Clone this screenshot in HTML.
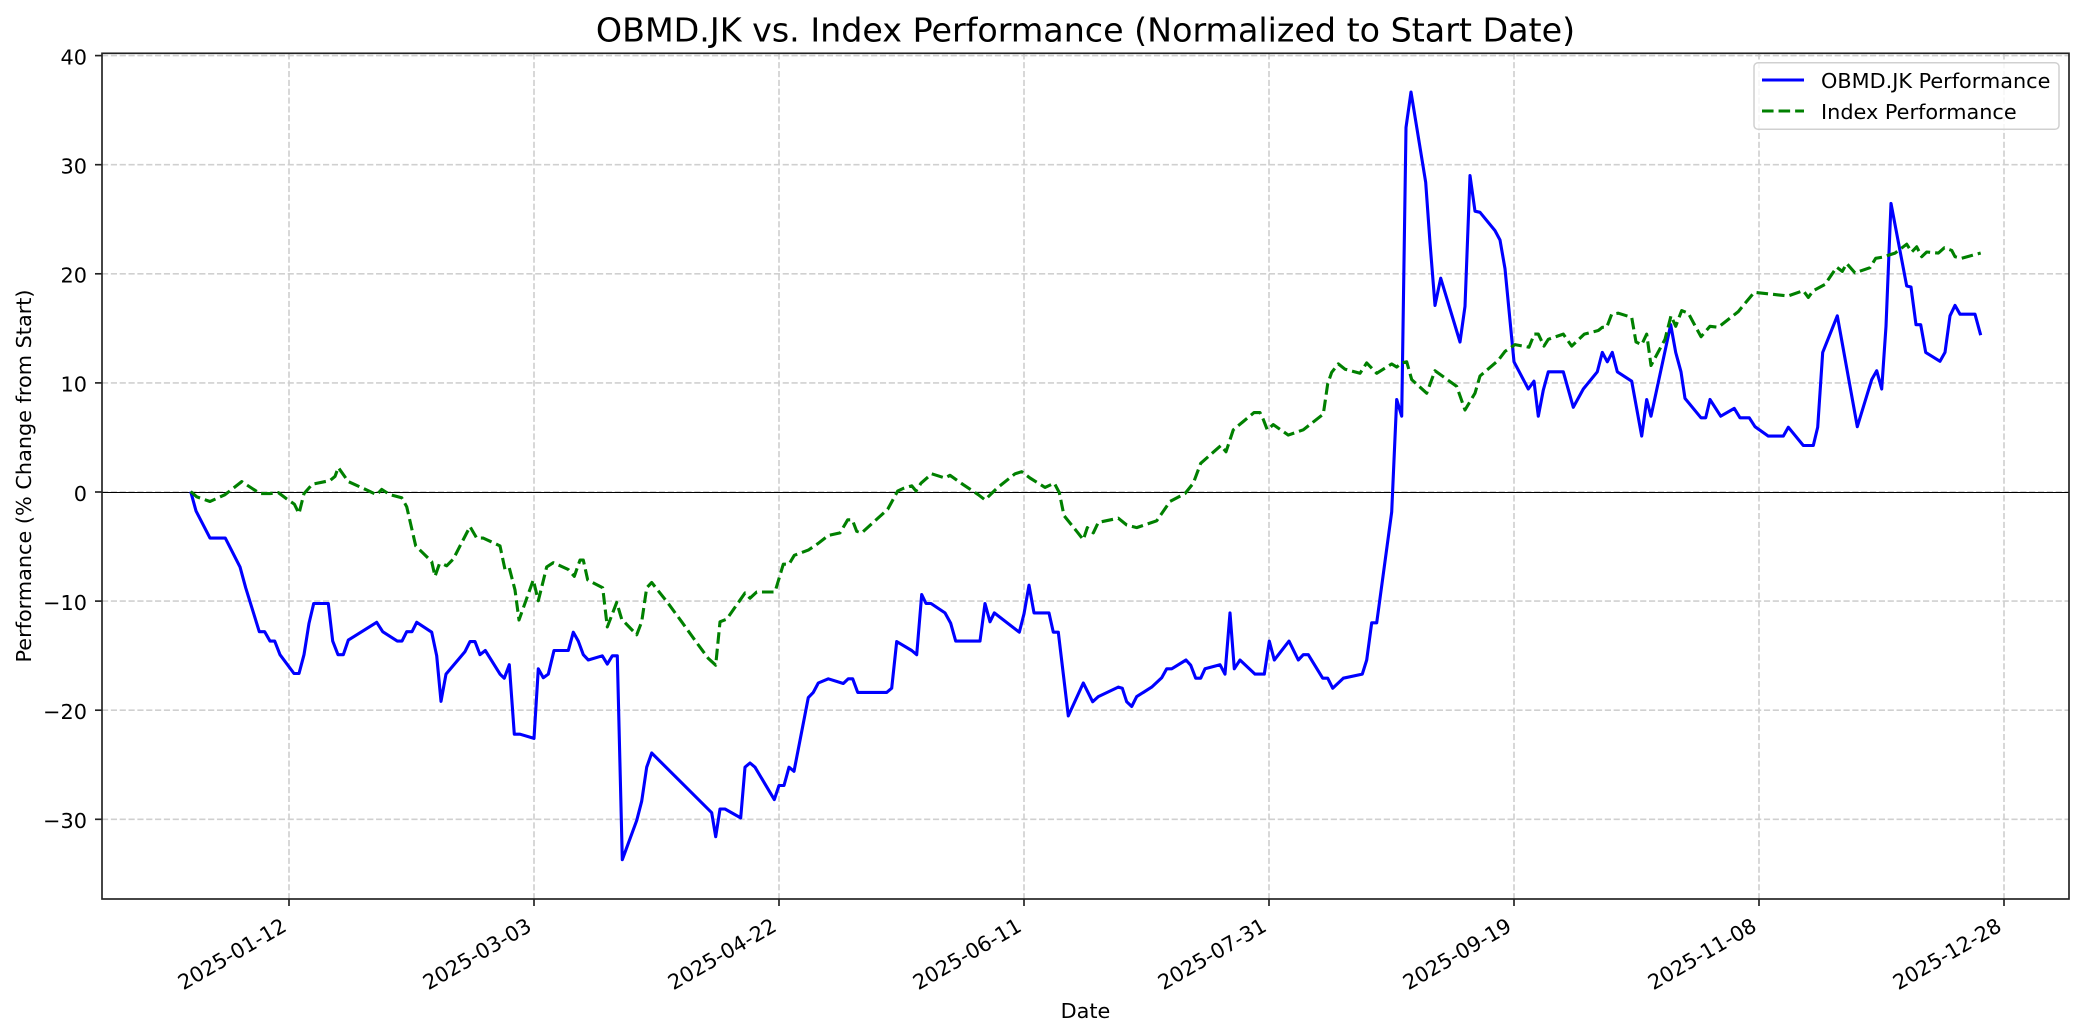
<!DOCTYPE html>
<html>
<head>
<meta charset="utf-8">
<style>
html,body{margin:0;padding:0;background:#fff;}
svg{display:block;}
text{font-family:"DejaVu Sans","Liberation Sans",sans-serif;fill:#000;}
</style>
</head>
<body>
<svg width="2084" height="1035" viewBox="0 0 2084 1035" xmlns="http://www.w3.org/2000/svg">
<rect x="0" y="0" width="2084" height="1035" fill="#fff"/>
<defs>
<clipPath id="ax"><rect x="102" y="53.3" width="1967" height="845.7"/></clipPath>
</defs>

<!-- grid -->
<g stroke="#d0d0d0" stroke-width="1.67" stroke-dasharray="6.17 2.67" fill="none">
<line x1="102" y1="55.6" x2="2069" y2="55.6"/>
<line x1="102" y1="164.7" x2="2069" y2="164.7"/>
<line x1="102" y1="273.8" x2="2069" y2="273.8"/>
<line x1="102" y1="382.9" x2="2069" y2="382.9"/>
<line x1="102" y1="492" x2="2069" y2="492"/>
<line x1="102" y1="601.1" x2="2069" y2="601.1"/>
<line x1="102" y1="710.2" x2="2069" y2="710.2"/>
<line x1="102" y1="819.3" x2="2069" y2="819.3"/>
<line x1="289" y1="53.3" x2="289" y2="899"/>
<line x1="534" y1="53.3" x2="534" y2="899"/>
<line x1="779" y1="53.3" x2="779" y2="899"/>
<line x1="1024" y1="53.3" x2="1024" y2="899"/>
<line x1="1269" y1="53.3" x2="1269" y2="899"/>
<line x1="1514" y1="53.3" x2="1514" y2="899"/>
<line x1="1759" y1="53.3" x2="1759" y2="899"/>
<line x1="2004" y1="53.3" x2="2004" y2="899"/>
</g>

<line x1="102" y1="492.5" x2="2069" y2="492.5" stroke="#000" stroke-width="1"/>

<g clip-path="url(#ax)" fill="none" stroke-linejoin="round">
<polyline stroke="#0000ff" stroke-width="3.1" points="190.7,491.5 196.0,510.9 210.0,538.1 225.3,538.1 240.0,566.9 245.7,587.8 259.3,631.7 264.7,631.7 270.0,641.1 274.7,641.1 280.0,654.7 294.0,673.5 299.0,673.5 304.0,654.7 309.0,623.3 313.7,603.5 328.3,603.5 332.7,641.1 338.0,654.7 343.3,654.7 348.3,640.1 376.7,622.3 382.7,631.7 397.3,641.1 402.0,641.1 406.7,631.7 412.0,631.7 416.7,622.3 431.7,632.2 436.7,655.8 441.0,701.3 446.0,674.1 465.0,651.6 470.0,641.6 475.0,641.6 480.0,654.7 485.3,650.5 500.0,674.1 504.3,678.2 509.3,664.7 514.3,734.2 520.0,734.2 534.0,738.4 538.3,668.8 543.3,677.7 548.3,674.1 554.0,650.5 568.3,650.5 573.3,632.2 578.3,641.1 583.3,654.7 588.3,660.0 602.3,655.8 607.3,664.1 612.3,655.8 617.3,655.8 622.3,859.7 636.7,820.5 641.7,801.2 646.7,767.2 651.7,753.0 711.7,812.7 715.7,836.7 720.0,809.0 725.0,809.0 740.7,817.9 745.0,767.2 750.0,763.0 755.0,767.2 774.3,799.6 779.0,785.5 784.0,785.5 789.0,767.2 794.0,771.3 808.3,697.6 813.3,692.4 818.3,683.0 828.3,678.8 843.3,683.5 848.3,678.8 852.7,678.8 857.7,692.4 886.7,692.4 891.7,688.2 896.7,641.6 911.7,650.5 916.7,654.7 921.7,594.6 926.0,603.5 931.0,603.5 945.0,612.9 950.7,623.3 955.7,641.1 980.0,641.1 985.0,603.5 990.0,621.8 994.3,612.9 1019.3,632.2 1024.0,613.9 1029.0,585.2 1034.0,612.9 1049.0,612.9 1053.3,632.2 1058.3,632.2 1068.3,715.9 1083.3,683.0 1092.7,701.8 1098.3,696.6 1118.3,687.1 1122.3,688.2 1126.7,701.8 1131.7,706.5 1136.7,696.6 1151.7,687.1 1161.7,677.7 1166.7,668.8 1171.7,668.8 1186.0,660.0 1190.7,665.2 1195.7,678.2 1200.7,678.2 1205.0,668.8 1220.0,664.7 1225.0,674.1 1230.0,612.9 1234.3,668.8 1240.0,660.0 1255.0,674.1 1264.3,674.1 1269.3,641.1 1274.3,660.0 1289.0,641.1 1298.3,660.0 1303.3,654.7 1308.3,654.7 1322.7,678.2 1327.7,678.2 1332.7,688.2 1343.3,678.2 1362.3,674.1 1366.7,660.0 1371.7,622.8 1376.7,622.8 1391.7,511.9 1396.7,399.5 1401.7,416.2 1406.0,127.5 1411.0,92.0 1425.7,182.4 1430.0,242.6 1435.0,305.4 1440.7,278.2 1460.0,342.0 1465.0,306.4 1470.0,175.6 1475.0,211.2 1480.0,212.3 1495.0,230.6 1500.0,240.0 1505.0,268.7 1514.0,361.8 1528.3,389.0 1534.0,381.2 1538.3,416.2 1543.3,390.1 1548.3,371.8 1563.3,371.8 1573.3,407.3 1583.3,389.0 1597.3,371.8 1602.3,352.4 1607.3,361.8 1612.3,352.4 1617.3,371.8 1631.7,381.2 1641.7,436.1 1646.7,399.5 1651.0,416.2 1670.7,324.7 1675.7,352.4 1681.0,371.8 1685.0,398.4 1701.0,417.8 1705.7,417.8 1710.0,399.5 1720.7,416.2 1734.3,408.4 1740.0,417.8 1749.3,417.8 1755.0,426.7 1768.3,436.1 1783.3,436.1 1788.3,427.2 1803.3,445.5 1813.3,445.5 1817.7,427.2 1822.7,352.4 1837.3,315.8 1857.3,426.7 1871.7,379.6 1876.7,370.7 1881.7,389.0 1886.0,326.3 1891.0,203.4 1906.7,286.0 1911.0,287.0 1916.0,324.7 1920.7,324.7 1925.7,352.4 1940.0,361.3 1945.0,352.4 1950.0,315.8 1955.0,305.4 1960.0,314.2 1975.0,314.2 1980.7,335.2"/>
<polyline stroke="#008000" stroke-width="3.1" stroke-dasharray="11.56 5" points="190.7,491.5 196.7,496.8 210.0,501.5 225.0,494.7 241.7,481.6 260.0,493.6 270.0,493.6 278.3,492.6 286.7,498.9 294.3,504.1 299.0,513.5 304.0,493.6 312.3,484.2 330.0,480.6 335.0,476.4 338.3,467.5 348.3,481.6 363.3,488.4 376.7,494.7 381.7,489.4 390.0,494.7 401.7,497.8 406.7,506.7 415.7,545.9 431.7,561.6 435.0,576.3 439.3,564.2 443.3,564.2 446.7,565.8 453.3,559.0 470.0,526.6 476.7,538.1 483.3,538.1 500.0,545.9 505.0,569.5 509.3,567.9 515.0,590.0 519.0,620.0 533.3,579.9 538.3,600.8 546.7,566.9 553.3,562.7 568.3,569.5 574.3,576.3 580.0,560.1 583.3,560.1 587.7,579.9 602.7,587.8 607.3,627.0 616.7,602.4 621.7,619.2 636.7,634.8 641.7,621.8 646.7,587.8 651.7,582.5 668.3,603.5 681.7,621.8 696.7,642.7 708.3,658.4 715.7,665.2 720.0,621.8 726.7,619.2 745.0,593.0 750.0,598.2 756.7,592.0 775.0,592.0 783.3,564.2 789.0,564.2 794.3,555.3 808.3,550.1 818.3,543.3 828.3,535.5 840.0,532.9 847.7,519.8 852.3,519.8 856.7,531.3 861.7,532.9 875.0,520.8 887.7,509.3 897.7,491.0 903.3,488.4 911.7,485.8 916.0,491.0 921.0,483.2 931.7,473.8 945.0,478.0 950.0,475.3 963.3,484.7 978.3,494.7 985.0,499.9 996.7,488.4 1015.0,473.8 1021.7,471.7 1030.0,478.0 1045.0,487.4 1054.3,483.2 1059.3,492.6 1064.0,515.6 1076.7,531.3 1083.3,539.7 1087.3,527.6 1093.3,532.9 1098.3,522.4 1118.3,518.2 1126.7,525.0 1136.7,527.6 1156.7,520.8 1170.0,501.5 1185.0,493.6 1193.3,483.2 1200.7,463.3 1216.7,449.2 1221.0,445.5 1226.0,451.8 1233.3,429.8 1243.3,421.5 1254.0,412.6 1260.0,412.6 1263.3,419.4 1267.3,429.8 1273.3,424.6 1288.3,435.1 1303.3,429.8 1323.3,414.1 1327.7,383.8 1331.7,372.3 1338.3,363.9 1345.0,369.2 1360.0,373.3 1366.7,362.9 1376.7,373.3 1391.7,363.9 1396.7,367.1 1401.7,362.9 1406.7,361.8 1411.7,379.6 1426.7,393.2 1435.0,370.7 1456.7,386.4 1465.0,410.0 1475.0,393.2 1480.0,376.0 1498.3,360.3 1505.0,351.4 1515.0,344.6 1529.0,347.2 1534.3,334.1 1538.3,334.1 1544.0,346.1 1548.3,339.3 1563.3,334.1 1571.7,346.1 1584.3,334.1 1598.3,330.5 1602.3,327.3 1606.7,327.3 1611.7,314.2 1618.3,313.2 1631.7,317.4 1636.0,342.0 1641.7,344.6 1646.7,334.1 1651.0,365.5 1665.0,339.3 1671.0,315.8 1675.7,326.3 1681.7,310.6 1688.3,313.2 1701.0,336.7 1710.0,326.3 1718.3,327.3 1738.3,311.6 1743.3,305.4 1754.3,292.3 1768.3,293.8 1778.3,294.9 1788.3,295.9 1803.3,290.7 1808.3,297.5 1813.3,290.7 1825.0,284.4 1836.7,267.2 1842.3,271.4 1846.7,263.5 1855.0,272.9 1870.0,267.7 1875.7,258.3 1882.3,257.2 1895.0,253.1 1906.7,244.2 1911.7,252.0 1916.7,246.8 1921.7,256.7 1926.7,252.0 1938.3,253.1 1944.3,247.8 1951.7,250.4 1955.0,256.7 1961.7,258.3 1976.7,254.1 1980.7,253.0"/>
</g>

<!-- spines -->
<rect x="102" y="53.3" width="1967" height="845.7" fill="none" stroke="#222" stroke-width="1.67"/>

<!-- ticks -->
<g stroke="#222" stroke-width="1.67">
<line x1="95" y1="55.6" x2="102" y2="55.6"/>
<line x1="95" y1="164.7" x2="102" y2="164.7"/>
<line x1="95" y1="273.8" x2="102" y2="273.8"/>
<line x1="95" y1="382.9" x2="102" y2="382.9"/>
<line x1="95" y1="492" x2="102" y2="492"/>
<line x1="95" y1="601.1" x2="102" y2="601.1"/>
<line x1="95" y1="710.2" x2="102" y2="710.2"/>
<line x1="95" y1="819.3" x2="102" y2="819.3"/>
<line x1="289" y1="899" x2="289" y2="906"/>
<line x1="534" y1="899" x2="534" y2="906"/>
<line x1="779" y1="899" x2="779" y2="906"/>
<line x1="1024" y1="899" x2="1024" y2="906"/>
<line x1="1269" y1="899" x2="1269" y2="906"/>
<line x1="1514" y1="899" x2="1514" y2="906"/>
<line x1="1759" y1="899" x2="1759" y2="906"/>
<line x1="2004" y1="899" x2="2004" y2="906"/>
</g>

<g font-size="20.8" text-anchor="end">
<text x="87" y="64.4">40</text>
<text x="87" y="173.5">30</text>
<text x="87" y="282.6">20</text>
<text x="87" y="391.7">10</text>
<text x="87" y="500.8">0</text>
<text x="87" y="609.9">−10</text>
<text x="87" y="719.0">−20</text>
<text x="87" y="828.1">−30</text>
</g>

<g font-size="20.8" text-anchor="end">
<text transform="translate(288,930) rotate(-30)">2025-01-12</text>
<text transform="translate(533,930) rotate(-30)">2025-03-03</text>
<text transform="translate(778,930) rotate(-30)">2025-04-22</text>
<text transform="translate(1023,930) rotate(-30)">2025-06-11</text>
<text transform="translate(1268,930) rotate(-30)">2025-07-31</text>
<text transform="translate(1513,930) rotate(-30)">2025-09-19</text>
<text transform="translate(1758,930) rotate(-30)">2025-11-08</text>
<text transform="translate(2003,930) rotate(-30)">2025-12-28</text>
</g>

<text x="1085.5" y="1018" font-size="20.8" text-anchor="middle">Date</text>
<text transform="translate(31,476) rotate(-90)" font-size="20.8" text-anchor="middle">Performance (% Change from Start)</text>
<text x="1085.5" y="41.7" font-size="33.3" text-anchor="middle">OBMD.JK vs. Index Performance (Normalized to Start Date)</text>

<!-- legend -->
<rect x="1754" y="62.7" width="305" height="66.6" rx="4" ry="4" fill="#fff" fill-opacity="0.8" stroke="#d0d0d0" stroke-width="1.5"/>
<line x1="1762" y1="80" x2="1804" y2="80" stroke="#0000ff" stroke-width="3.1"/>
<line x1="1762" y1="111" x2="1804" y2="111" stroke="#008000" stroke-width="3.1" stroke-dasharray="11.56 5"/>
<text x="1821" y="87.8" font-size="20.8">OBMD.JK Performance</text>
<text x="1821" y="118.8" font-size="20.8">Index Performance</text>
</svg>
</body>
</html>
